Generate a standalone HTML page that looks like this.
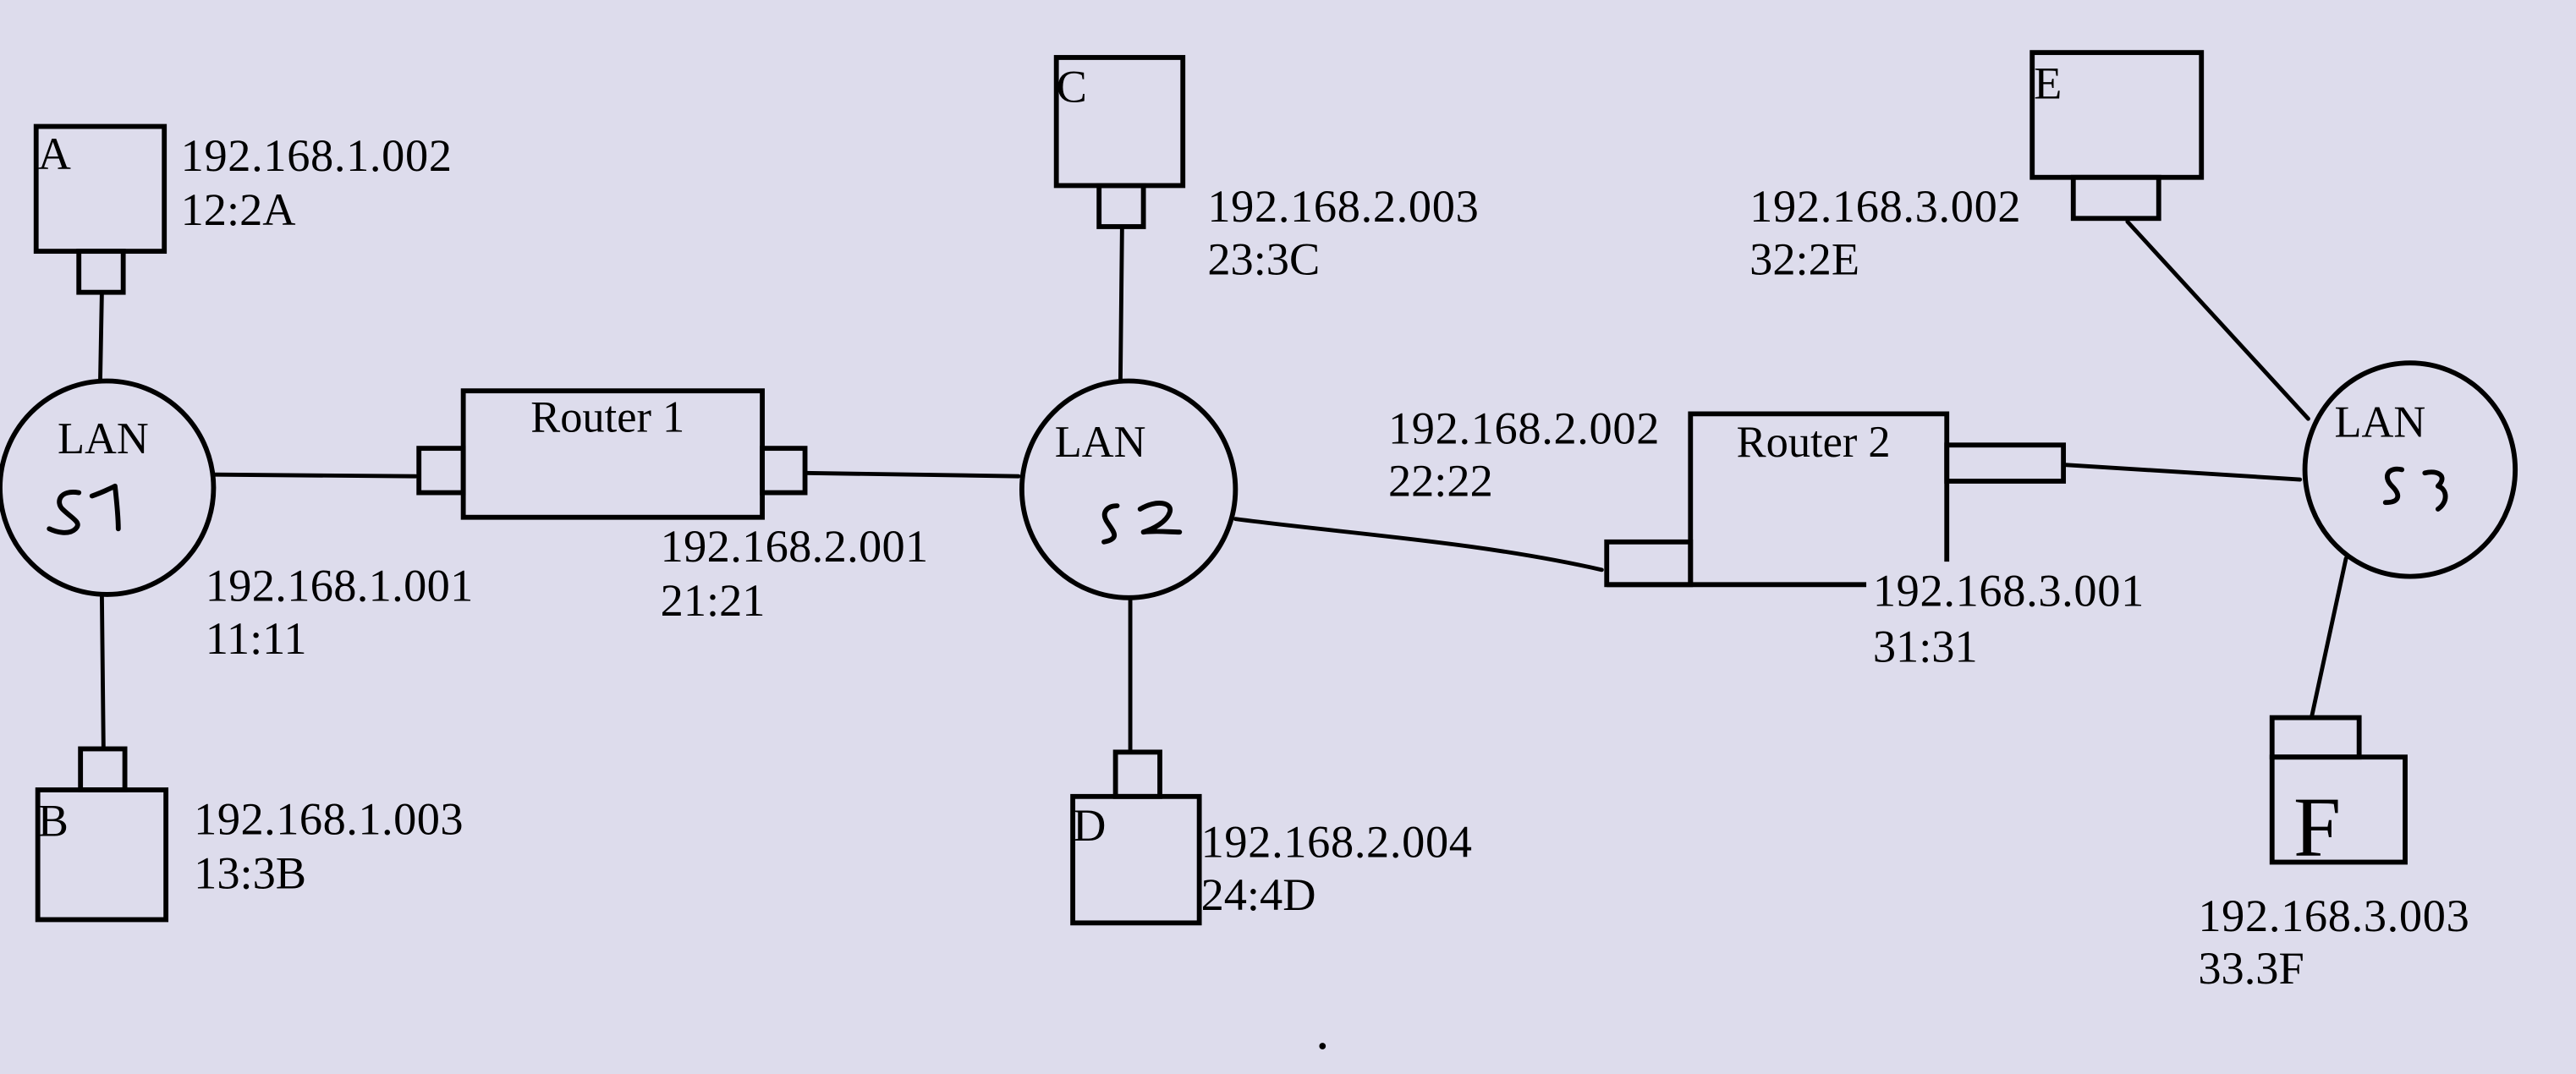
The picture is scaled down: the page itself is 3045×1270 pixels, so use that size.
<!DOCTYPE html>
<html><head><meta charset="utf-8"><style>
html,body{margin:0;padding:0;background:#dddcec;}
svg{display:block}
text{font-family:"Liberation Serif",serif;fill:#000;}
</style></head><body>
<svg width="3045" height="1270" viewBox="0 0 1568 654" preserveAspectRatio="none" xmlns="http://www.w3.org/2000/svg">
<rect width="1568" height="654" fill="#dddcec"/>
<g fill="none" stroke="#000" stroke-width="3">
<rect x="22" y="77" width="78" height="76"/>
<rect x="48" y="153" width="27" height="25"/>
<rect x="23" y="481" width="78" height="79"/>
<rect x="49" y="456" width="27" height="25"/>
<circle cx="65" cy="297" r="65"/>
<rect x="282" y="238" width="182" height="77"/>
<rect x="255" y="273" width="27" height="27"/>
<rect x="464" y="273" width="26" height="27"/>
<rect x="643" y="35" width="77" height="78"/>
<rect x="669" y="113" width="27" height="25"/>
<rect x="653" y="485" width="77" height="77"/>
<rect x="679" y="458" width="27" height="27"/>
<ellipse cx="687" cy="298" rx="65" ry="66"/>
<path d="M1029 356 V252 H1185 V342"/>
<path d="M978 356 H1136"/>
<rect x="978" y="330" width="51" height="26"/>
<rect x="1185" y="271" width="71" height="22"/>
<rect x="1237" y="32" width="103" height="76"/>
<rect x="1262" y="108" width="52" height="25"/>
<ellipse cx="1467" cy="286" rx="64" ry="65"/>
<rect x="1383" y="461" width="81" height="64"/>
<rect x="1383" y="437" width="53" height="24"/>
</g>
<g fill="none" stroke="#000" stroke-width="2.5" stroke-linecap="round" stroke-linejoin="round">
<path d="M62 178 L61 232"/>
<path d="M62 362 L63 456"/>
<path d="M130 289 L253 290"/>
<path d="M490 288 L620 290"/>
<path d="M683 138 L682 232"/>
<path d="M688 364 L688 458"/>
<path d="M752 316 C820 325 900 330 975 347"/>
<path d="M1256 283 L1400 292"/>
<path d="M1295 135 L1405 255"/>
<path d="M1428 340 L1407 437"/>
<path d="M48 300 C36 298 34 306 38 310 C44 316 50 318 46 322 C42 326 34 324 30 322 M56 302 C62 300 66 298 70 296 C71 305 72 314 72 322" stroke-width="3"/>
<path d="M680 308 C674 308 670 312 674 318 C678 324 682 328 672 330 M694 310 C704 304 714 306 712 312 C710 318 702 322 696 324 C704 323 712 324 718 324" stroke-width="3"/>
<path d="M1462 286 C1454 284 1450 290 1456 296 C1462 302 1460 306 1452 306 M1476 288 C1484 286 1490 290 1484 296 C1490 298 1490 306 1484 310" stroke-width="3"/>
</g>
<circle cx="805" cy="637" r="2" fill="#000"/>
<g font-size="28">
<text x="23" y="103">A</text>
<text x="23" y="509">B</text>
<text x="643" y="62">C</text>
<text x="653" y="512">D</text>
<text x="1238" y="60">E</text>
<text x="1396" y="521" font-size="52">F</text>
<text x="110" y="104" textLength="165">192.168.1.002</text>
<text x="110" y="137">12:2A</text>
<text x="125" y="366" textLength="163">192.168.1.001</text>
<text x="125" y="398">11:11</text>
<text x="118" y="508" textLength="164">192.168.1.003</text>
<text x="118" y="541">13:3B</text>
<text x="402" y="342" textLength="163">192.168.2.001</text>
<text x="402" y="375">21:21</text>
<text x="735" y="135" textLength="165">192.168.2.003</text>
<text x="735" y="167">23:3C</text>
<text x="731" y="522" textLength="165">192.168.2.004</text>
<text x="731" y="554">24:4D</text>
<text x="845" y="270" textLength="165">192.168.2.002</text>
<text x="845" y="302">22:22</text>
<text x="1065" y="135" textLength="165">192.168.3.002</text>
<text x="1065" y="167">32:2E</text>
<text x="1140" y="369" textLength="165">192.168.3.001</text>
<text x="1140" y="403">31:31</text>
<text x="1338" y="567" textLength="165">192.168.3.003</text>
<text x="1338" y="599">33.3F</text>
<text x="323" y="263" font-size="27">Router 1</text>
<text x="1057" y="278" font-size="27">Router 2</text>
<text x="35" y="276" font-size="27">LAN</text>
<text x="642" y="278" font-size="27">LAN</text>
<text x="1421" y="266" font-size="27">LAN</text>
</g>
</svg>
</body></html>
